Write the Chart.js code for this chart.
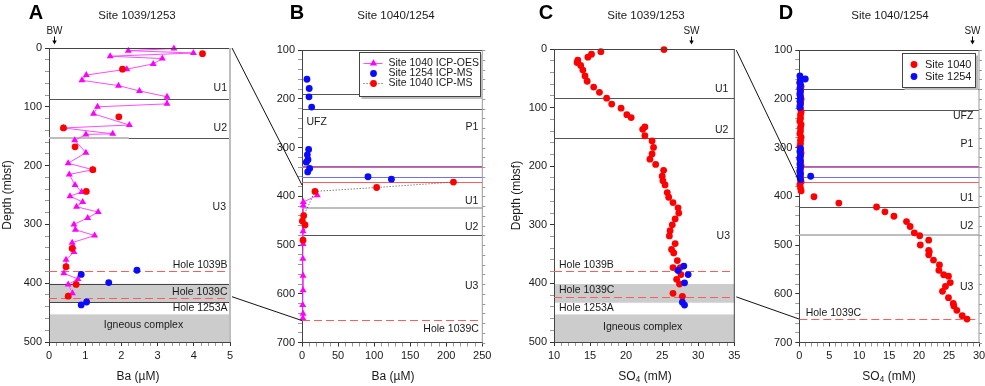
<!DOCTYPE html>
<html>
<head>
<meta charset="utf-8">
<script src="https://cdn.jsdelivr.net/npm/chart.js@4.4.0/dist/chart.umd.min.js"></script>
<style>
  body { margin: 0; background: #fff; width: 985px; height: 386px; overflow: hidden; position: relative; }
  canvas { position: absolute; top: 0; }
  #overlay { pointer-events: none; }
</style>
</head>
<body>
<canvas id="cA" width="260" height="386" style="left:0px"></canvas>
<canvas id="cB" width="260" height="386" style="left:240px"></canvas>
<canvas id="cC" width="260" height="386" style="left:490px"></canvas>
<canvas id="cD" width="245" height="386" style="left:740px"></canvas>
<canvas id="overlay" width="985" height="386" style="left:0px"></canvas>
<script>
// ---------- data (depth in mbsf) ----------

// A: Site 1039/1253, Ba (uM)
const aOesDepth = [1, 4.5, 8.5, 14, 18, 27, 36, 46, 55, 64, 73, 83, 95, 100, 112, 131, 136, 146, 147, 157, 178, 196, 207, 215, 233, 245, 252, 262, 270, 279, 289, 300, 309, 319, 331, 338, 347, 360, 372, 383, 393, 402, 417, 422];
const aOesBa = [3.45, 2.19, 3.99, 1.69, 3.13, 2.88, 2.15, 1.03, 0.91, 1.92, 2.50, 3.26, 3.26, 1.34, 1.23, 2.22, 0.40, 1.76, 1.02, 0.71, 1.02, 0.53, 1.21, 0.56, 0.72, 0.90, 0.58, 0.93, 0.76, 1.36, 1.07, 0.69, 0.73, 1.26, 0.64, 0.67, 0.69, 0.47, 0.48, 0.41, 0.80, 0.53, 0.65, 0.53];
const aMsDepth = [9.6, 36, 117, 136, 168, 207, 244, 341, 372, 402, 422];
const aMsBa = [4.24, 2.03, 1.93, 0.40, 0.72, 1.21, 1.03, 0.64, 0.47, 0.75, 0.53];
const a1253Depth = [378, 385, 399, 432, 437];
const a1253Ba = [2.43, 0.89, 1.65, 1.04, 0.89];

// B: Site 1040/1254, Ba (uM)
const bOesDepth = [398, 412, 419, 472, 498, 528, 563, 593, 623, 641, 650];
const bOesBa = [21.3, 1.8, 1.8, 1.5, 1.5, 1.2, 1.5, 1.5, 1.0, 1.5, 1.2];
const b1254Depth = [160, 179, 196, 217, 304, 315, 325, 330, 343, 350, 360, 365];
const b1254Ba = [6.9, 10, 9.7, 13.4, 9.2, 7.4, 8.3, 6.0, 10.6, 7.9, 91.5, 124];
const bMsDepth = [371, 382, 390, 440, 451, 459, 490];
const bMsBa = [210, 103.5, 18, 2.3, 0.5, 4.2, 1.4];

// C: Site 1039/1253, SO4 (mM)
const c1039Depth = [1, 4.5, 9, 14, 19, 23, 28, 36, 46, 55, 65, 74, 84, 94, 101, 112, 117, 133, 137, 148, 157, 168, 179, 188, 197, 207, 217, 225, 232, 245, 253, 262, 271, 280, 290, 300, 310, 319, 332, 342, 348, 361, 373, 373, 385, 393, 401, 417, 422];
const c1039So4 = [25.25, 16.5, 15.2, 14.7, 13.3, 13.2, 13.7, 14.0, 14.3, 14.6, 15.5, 16.3, 17.3, 18.0, 19.3, 20.1, 20.7, 22.6, 22.3, 22.6, 23.6, 23.8, 23.6, 23.3, 24.1, 25.2, 25.0, 25.1, 25.4, 25.7, 25.9, 26.5, 27.2, 27.3, 26.8, 26.4, 26.1, 26.0, 26.8, 26.3, 26.6, 27.1, 26.5, 27.5, 27.6, 27.0, 27.4, 26.5, 27.8];
const c1253Depth = [370.5, 378, 385, 399, 432, 437];
const c1253So4 = [28.0, 27.2, 28.6, 28.1, 27.8, 28.1];

// D: Site 1040/1254, SO4 (mM)
const d1040Depth = [162, 168, 175, 181, 188, 194, 201, 207, 214, 220, 227, 233, 240, 246, 253, 259, 266, 272, 279, 285, 292, 298, 305, 311, 318, 324, 331, 337, 344, 350, 357, 363, 370, 376, 383, 389, 401, 414, 422, 432, 441, 452, 462, 475, 481, 490, 500, 511, 514, 520, 531, 541, 552, 561, 564, 577, 585, 595, 608, 620, 625, 634, 645, 652];
const d1040So4 = [0.2, 0.1, 0.3, 0.2, 0.1, 0.2, 0.3, 0.2, 0.1, 0.2, 0.3, 0.2, 0.2, 0.1, 0.3, 0.2, 0.2, 0.1, 0.3, 0.2, 0.2, 0.1, 0.2, 0.3, 0.2, 0.1, 0.2, 0.3, 0.2, 0.1, 0.2, 0.2, 0.3, 0.1, 0.2, 0.3, 2.45, 6.6, 12.9, 14.3, 15.8, 17.9, 18.5, 19.2, 20.1, 21.6, 20.2, 21.6, 21.7, 21.6, 22.4, 23.4, 23.3, 24.1, 24.9, 25.2, 24.4, 23.9, 24.9, 25.7, 25.8, 26.3, 27.2, 28.0];
const d1254Depth = [153, 159, 166, 172, 179, 185, 192, 198, 205, 211, 218, 302, 308, 315, 321, 327, 334, 340, 347, 353, 360, 366, 159.5, 359];
const d1254So4 = [0.1, 0.2, 0.1, 0.2, 0.1, 0.2, 0.1, 0.2, 0.1, 0.2, 0.1, 0.2, 0.1, 0.2, 0.1, 0.2, 0.1, 0.2, 0.1, 0.2, 0.1, 0.2, 1.0, 1.9];

// boundaries (mbsf)
const site1039Units = [86, 153];        // U1/U2, U2/U3
const site1039Holes = [380, 425];       // Hole 1039B, Hole 1039C
const site1039Box = [401, 433];         // Hole 1039C interval
const site1039Igneous = [453, 500];
const site1040Ufz = [190, 221];
const site1040Lines = [337, 341, 360, 371]; // blue, red, blue, red
const site1040Units = [424, 479];
const site1040Hole = [654];

// axis ranges
const depthA = [0, 500], baA = [0, 5];
const depthB = [100, 700], baB = [0, 250];
const depthC = [0, 500], so4C = [10, 35];
const depthD = [100, 700], so4D = [0, 30];

// connectors between panels: [depth left panel, depth right panel]
const linkAB = [[0, 377], [423, 655]];
const linkCD = [[2, 370], [423, 652]];

// ---------- drawing ----------
const FONT = '"Liberation Sans", Arial, Helvetica, sans-serif';
const RED = '#ff0000', BLUE = '#0a0aff', MAG = '#ff00ff';
const DARK = '#555555', GREY = '#bdbdbd', LRED = '#ff5c5c', LBLUE = '#6e6eff';

Chart.defaults.font.family = FONT;
Chart.defaults.font.size = 11;
Chart.defaults.color = '#222';

function pts(vals, depths) {
    return vals.map((v, i) => ({ x: v, y: depths[i] }));
}

function isMajor(v, step) {
    return Math.abs(v / step - Math.round(v / step)) < 1e-6;
}

function txt(ctx, s, x, y, align, size, bold) {
    ctx.font = (bold ? 'bold ' : '') + size + 'px ' + FONT;
    ctx.textAlign = align;
    ctx.textBaseline = 'middle';
    ctx.fillStyle = '#1a1a1a';
    ctx.fillText(s, x, y);
}

// text with subscript parts, centred on x
function richText(ctx, parts, cx, y, size) {
    let w = 0;
    parts.forEach(p => {
        ctx.font = (p.sub ? size * 0.72 : size) + 'px ' + FONT;
        w += ctx.measureText(p.t).width;
    });
    let x = cx - w / 2;
    ctx.textAlign = 'left';
    ctx.textBaseline = 'middle';
    ctx.fillStyle = '#1a1a1a';
    parts.forEach(p => {
        ctx.font = (p.sub ? size * 0.72 : size) + 'px ' + FONT;
        ctx.fillText(p.t, x, p.sub ? y + 3.5 : y);
        x += ctx.measureText(p.t).width;
    });
}

function marker(ctx, style, color, x, y, r) {
    ctx.fillStyle = color;
    ctx.beginPath();
    if (style === 'triangle') {
        ctx.moveTo(x, y - r);
        ctx.lineTo(x + r * 0.866, y + r * 0.5);
        ctx.lineTo(x - r * 0.866, y + r * 0.5);
        ctx.closePath();
    } else {
        ctx.arc(x, y, r, 0, Math.PI * 2);
    }
    ctx.fill();
}

function decor(o) {
    return {
        id: 'decor',
        beforeDraw(chart) {
            const { ctx, chartArea: a } = chart;
            const y = chart.scales.y;
            ctx.save();
            (o.bands || []).forEach(b => {
                const t = y.getPixelForValue(b.r[0]), btm = y.getPixelForValue(b.r[1]);
                ctx.fillStyle = '#cccccc';
                ctx.fillRect(a.left, t, a.right - a.left, btm - t);
                if (b.edge) {
                    ctx.strokeStyle = '#444';
                    ctx.lineWidth = 1;
                    ctx.beginPath();
                    ctx.moveTo(a.left, Math.round(t) + 0.5);
                    ctx.lineTo(a.right, Math.round(t) + 0.5);
                    ctx.moveTo(a.left, Math.round(btm) - 0.5);
                    ctx.lineTo(a.right, Math.round(btm) - 0.5);
                    ctx.stroke();
                }
            });
            ctx.restore();
        },
        beforeDatasetsDraw(chart) {
            const { ctx, chartArea: a } = chart;
            const x = chart.scales.x, y = chart.scales.y;
            ctx.save();
            (o.lines || []).forEach(l => {
                const w = l.w || 1;
                const py = Math.round(y.getPixelForValue(l.d)) + (w % 2 ? 0.5 : 0);
                const x1 = l.from != null ? x.getPixelForValue(l.from) : a.left;
                const x2 = l.to != null ? x.getPixelForValue(l.to) : a.right;
                ctx.strokeStyle = l.c;
                ctx.lineWidth = w;
                ctx.setLineDash(l.dash || []);
                ctx.beginPath();
                ctx.moveTo(x1, py);
                ctx.lineTo(x2, py);
                ctx.stroke();
            });
            ctx.restore();
        },
        afterDraw(chart) {
            const { ctx, chartArea: a } = chart;
            const x = chart.scales.x, y = chart.scales.y;
            ctx.save();
            // frame: top and right edges
            ctx.strokeStyle = '#444';
            ctx.lineWidth = 1;
            ctx.beginPath();
            ctx.moveTo(a.left, Math.round(a.top) + 0.5);
            ctx.lineTo(a.right, Math.round(a.top) + 0.5);
            ctx.stroke();
            ctx.strokeStyle = o.right.c;
            ctx.lineWidth = o.right.w;
            ctx.beginPath();
            ctx.moveTo(a.right, a.top);
            ctx.lineTo(a.right, a.bottom);
            ctx.stroke();
            if (o.right.ticks) {
                ctx.lineWidth = 1;
                ctx.beginPath();
                y.ticks.forEach(t => {
                    const py = Math.round(y.getPixelForValue(t.value)) + 0.5;
                    ctx.moveTo(a.right, py);
                    ctx.lineTo(a.right + 3, py);
                });
                ctx.stroke();
            }

            // labels inside the plot
            (o.labels || []).forEach(l => {
                const py = y.getPixelForValue(l.d);
                let px = l.at === 'right' ? a.right - l.dx : l.at === 'left' ? a.left + l.dx : (a.left + a.right) / 2 + l.dx;
                txt(ctx, l.t, px, py, l.at === 'center' ? 'center' : l.at, 10.5);
            });

            // panel letter and title
            ctx.font = 'bold 20px ' + FONT;
            ctx.textAlign = 'center';
            ctx.textBaseline = 'alphabetic';
            ctx.fillStyle = '#000';
            ctx.fillText(o.letter, o.letterX, 19);
            ctx.font = '11.5px ' + FONT;
            ctx.fillStyle = '#1a1a1a';
            ctx.fillText(o.title, o.titleX, 18.5);

            // axis titles
            richText(ctx, o.xTitle, o.xTitleX, 376.5, 12);
            if (o.yTitleX != null) {
                ctx.save();
                ctx.translate(o.yTitleX, (a.top + a.bottom) / 2);
                ctx.rotate(-Math.PI / 2);
                txt(ctx, 'Depth (mbsf)', 0, 0, 'center', 12);
                ctx.restore();
            }

            // bottom water / seawater arrow
            if (o.arrow) {
                const ax = Math.round(x.getPixelForValue(o.arrow.x)) + 0.5;
                txt(ctx, o.arrow.t, ax, 31, 'center', 10);
                ctx.strokeStyle = '#000';
                ctx.lineWidth = 1;
                ctx.beginPath();
                ctx.moveTo(ax, 36.5);
                ctx.lineTo(ax, 41);
                ctx.stroke();
                ctx.fillStyle = '#000';
                ctx.beginPath();
                ctx.moveTo(ax - 2.2, 40.5);
                ctx.lineTo(ax + 2.2, 40.5);
                ctx.lineTo(ax, 44.5);
                ctx.closePath();
                ctx.fill();
            }

            // legend box
            if (o.legend) {
                const L = o.legend;
                const bx = Math.round(a.left + L.dx) + 0.5, by = Math.round(a.top + L.dy) + 0.5;
                ctx.fillStyle = '#fff';
                ctx.fillRect(bx, by, L.w, L.h);
                ctx.strokeStyle = '#bbb';
                ctx.lineWidth = 2;
                ctx.beginPath();
                ctx.moveTo(bx + L.w + 1.5, by + 2);
                ctx.lineTo(bx + L.w + 1.5, by + L.h + 1.5);
                ctx.lineTo(bx + 2, by + L.h + 1.5);
                ctx.stroke();
                ctx.strokeStyle = '#444';
                ctx.lineWidth = 1;
                ctx.strokeRect(bx, by, L.w, L.h);
                L.rows.forEach((r, i) => {
                    const ry = by + L.first + i * L.gap;
                    if (r.line) {
                        ctx.strokeStyle = r.line;
                        ctx.setLineDash(r.dash || []);
                        ctx.beginPath();
                        ctx.moveTo(bx + L.sym - 10, ry);
                        ctx.lineTo(bx + L.sym + 9, ry);
                        ctx.stroke();
                        ctx.setLineDash([]);
                    }
                    marker(ctx, r.style, r.color, bx + L.sym, ry, r.style === 'triangle' ? 4.2 : 3.4);
                    txt(ctx, r.t, bx + L.text, ry, 'left', L.size);
                });
            }
            ctx.restore();
        }
    };
}

function panel(id, o) {
    return new Chart(document.getElementById(id), {
        type: 'scatter',
        data: { datasets: o.datasets },
        options: {
            responsive: false,
            animation: false,
            devicePixelRatio: 1,
            events: [],
            layout: { padding: { left: 0, right: o.padRight, top: o.padTop, bottom: 0 } },
            plugins: { legend: { display: false }, tooltip: { enabled: false } },
            scales: {
                x: {
                    type: 'linear',
                    min: o.xRange[0],
                    max: o.xRange[1],
                    ticks: {
                        stepSize: o.xMinor,
                        autoSkip: false,
                        maxRotation: 0,
                        padding: 3,
                        color: '#1a1a1a',
                        callback: v => isMajor(v, o.xMajor) ? String(Math.round(v)) : ''
                    },
                    grid: {
                        drawOnChartArea: false,
                        tickLength: 4,
                        tickColor: c => (c.tick && isMajor(c.tick.value, o.xMajor)) ? '#333' : '#999'
                    },
                    border: { color: '#444' },
                    afterFit: s => { s.height = o.xHeight; s.paddingLeft = 0; s.paddingRight = 0; }
                },
                y: {
                    type: 'linear',
                    reverse: true,
                    min: o.yRange[0],
                    max: o.yRange[1],
                    ticks: {
                        stepSize: 20,
                        autoSkip: false,
                        padding: 3,
                        color: '#1a1a1a',
                        callback: v => isMajor(v, 100) ? String(v) : ''
                    },
                    grid: {
                        drawOnChartArea: false,
                        tickLength: 4,
                        tickColor: c => (c.tick && isMajor(c.tick.value, 100)) ? '#333' : '#999'
                    },
                    border: { color: '#444' },
                    afterFit: s => { s.width = o.yWidth; s.paddingTop = 0; s.paddingBottom = 0; }
                }
            }
        },
        plugins: [decor(o)]
    });
}

function dots(vals, depths, color, order) {
    return {
        data: pts(vals, depths),
        pointStyle: 'circle',
        pointRadius: 3.4,
        pointBackgroundColor: color,
        pointBorderWidth: 0,
        showLine: false,
        clip: false,
        order: order
    };
}

const baTitle = [{ t: 'Ba (\u00b5M)' }];
const so4Title = [{ t: 'SO' }, { t: '4', sub: true }, { t: ' (mM)' }];

const chartA = panel('cA', {
    xRange: baA, xMinor: 0.2, xMajor: 1, yRange: depthA,
    padTop: 48, padRight: 30, yWidth: 49, xHeight: 44,
    letter: 'A', letterX: 36, title: 'Site 1039/1253', titleX: 137,
    xTitle: baTitle, xTitleX: 138, yTitleX: 8,
    right: { c: GREY, w: 2 },
    arrow: { x: 0.13, t: 'BW' },
    bands: [{ r: site1039Box, edge: true }, { r: site1039Igneous }],
    lines: [
        { d: site1039Units[0], c: DARK },
        { d: site1039Units[1], c: GREY, w: 2, to: 2.2 },
        { d: site1039Units[1], c: DARK, from: 2.2 },
        { d: site1039Holes[0], c: LRED, dash: [8, 4] },
        { d: site1039Holes[1], c: LRED, dash: [8, 4] }
    ],
    labels: [
        { t: 'U1', d: 68, at: 'right', dx: 3 },
        { t: 'U2', d: 137, at: 'right', dx: 3 },
        { t: 'U3', d: 270, at: 'right', dx: 4 },
        { t: 'Hole 1039B', d: 370, at: 'right', dx: 2.5 },
        { t: 'Hole 1039C', d: 416, at: 'right', dx: 2.5 },
        { t: 'Hole 1253A', d: 443, at: 'right', dx: 2.5 },
        { t: 'Igneous complex', d: 471, at: 'center', dx: 4 }
    ],
    datasets: [
        dots(aMsBa, aMsDepth, RED, 1),
        dots(a1253Ba, a1253Depth, BLUE, 2),
        {
            data: pts(aOesBa, aOesDepth),
            showLine: true,
            borderColor: '#ff4cff',
            borderWidth: 1,
            pointStyle: 'triangle',
            pointRadius: 4,
            pointBackgroundColor: MAG,
            pointBorderWidth: 0,
            clip: false,
            order: 3
        }
    ]
});

const chartB = panel('cB', {
    xRange: baB, xMinor: 10, xMajor: 50, yRange: depthB,
    padTop: 50, padRight: 17.7, yWidth: 62, xHeight: 43.5,
    letter: 'B', letterX: 57, title: 'Site 1040/1254', titleX: 156,
    xTitle: baTitle, xTitleX: 153,
    right: { c: '#999', w: 1, ticks: true },
    lines: [
        { d: site1040Ufz[0], c: DARK },
        { d: site1040Ufz[1], c: DARK },
        { d: site1040Lines[0], c: LBLUE },
        { d: site1040Lines[1], c: LRED },
        { d: site1040Lines[2], c: LBLUE },
        { d: site1040Lines[3], c: LRED },
        { d: site1040Units[0], c: GREY, w: 2 },
        { d: site1040Units[1], c: DARK },
        { d: site1040Hole[0], c: LRED, dash: [8, 4] }
    ],
    labels: [
        { t: 'UFZ', d: 248, at: 'left', dx: 4.5 },
        { t: 'P1', d: 259, at: 'right', dx: 4 },
        { t: 'U1', d: 409, at: 'right', dx: 4 },
        { t: 'U2', d: 464, at: 'right', dx: 4 },
        { t: 'U3', d: 585, at: 'right', dx: 4 },
        { t: 'Hole 1039C', d: 673, at: 'right', dx: 3.5 }
    ],
    legend: {
        dx: 57, dy: 2, w: 121, h: 44, sym: 14, text: 29, first: 11, gap: 10, size: 10.5,
        rows: [
            { t: 'Site 1040 ICP-OES', style: 'triangle', color: MAG, line: '#ff4cff' },
            { t: 'Site 1254 ICP-MS', style: 'circle', color: BLUE },
            { t: 'Site 1040 ICP-MS', style: 'circle', color: RED, line: '#444', dash: [1, 2] }
        ]
    },
    datasets: [
        dots(bMsBa, bMsDepth, RED, 1),
        dots(b1254Ba, b1254Depth, BLUE, 2),
        {
            data: pts(bMsBa, bMsDepth),
            showLine: true,
            borderColor: '#444',
            borderWidth: 1,
            borderDash: [1, 2],
            pointRadius: 0,
            clip: false,
            order: 4
        },
        {
            data: pts(bOesBa, bOesDepth),
            showLine: true,
            borderColor: '#ff4cff',
            borderWidth: 1,
            pointStyle: 'triangle',
            pointRadius: 4,
            pointBackgroundColor: MAG,
            pointBorderWidth: 0,
            clip: false,
            order: 3
        }
    ]
});

const chartC = panel('cC', {
    xRange: so4C, xMinor: 1, xMajor: 5, yRange: depthC,
    padTop: 49, padRight: 15.7, yWidth: 64, xHeight: 44,
    letter: 'C', letterX: 56, title: 'Site 1039/1253', titleX: 156,
    xTitle: so4Title, xTitleX: 155, yTitleX: 27,
    right: { c: '#444', w: 1 },
    arrow: { x: 29.0, t: 'SW' },
    bands: [{ r: site1039Box }, { r: site1039Igneous }],
    lines: [
        { d: site1039Units[0] - 2, c: DARK },
        { d: site1039Units[1] - 1.5, c: DARK },
        { d: site1039Holes[0] - 2, c: LRED, dash: [8, 4] },
        { d: site1039Holes[1] - 2.5, c: LRED, dash: [8, 4] }
    ],
    labels: [
        { t: 'U1', d: 68, at: 'right', dx: 6 },
        { t: 'U2', d: 138, at: 'right', dx: 6 },
        { t: 'U3', d: 320, at: 'right', dx: 4.3 },
        { t: 'Hole 1039B', d: 368, at: 'left', dx: 5 },
        { t: 'Hole 1039C', d: 411, at: 'left', dx: 5 },
        { t: 'Hole 1253A', d: 443, at: 'left', dx: 5 },
        { t: 'Igneous complex', d: 474, at: 'center', dx: -1.5 }
    ],
    datasets: [
        dots(c1253So4, c1253Depth, BLUE, 1),
        dots(c1039So4, c1039Depth, RED, 2)
    ]
});

const chartD = panel('cD', {
    xRange: so4D, xMinor: 1, xMajor: 5, yRange: depthD,
    padTop: 50, padRight: 6, yWidth: 59.3, xHeight: 43.5,
    letter: 'D', letterX: 46, title: 'Site 1040/1254', titleX: 150,
    xTitle: so4Title, xTitleX: 149,
    right: { c: '#999', w: 1, ticks: true },
    arrow: { x: 28.8, t: 'SW' },
    lines: [
        { d: site1040Ufz[0] - 11, c: DARK },
        { d: site1040Ufz[1] + 2, c: DARK },
        { d: site1040Lines[0], c: LBLUE },
        { d: site1040Lines[1], c: LRED },
        { d: site1040Lines[2], c: LBLUE },
        { d: site1040Lines[3], c: LRED },
        { d: site1040Units[0] - 1, c: DARK },
        { d: site1040Units[1] + 1, c: GREY, w: 2 },
        { d: site1040Hole[0] - 2, c: LRED, dash: [8, 4] }
    ],
    labels: [
        { t: 'UFZ', d: 236, at: 'right', dx: 5.7 },
        { t: 'P1', d: 294, at: 'right', dx: 5.7 },
        { t: 'U1', d: 403, at: 'right', dx: 5.7 },
        { t: 'U2', d: 462, at: 'right', dx: 5.7 },
        { t: 'U3', d: 586, at: 'right', dx: 5.7 },
        { t: 'Hole 1039C', d: 640, at: 'left', dx: 6.4 }
    ],
    legend: {
        dx: 103, dy: 3, w: 73, h: 34, sym: 11.5, text: 22.5, first: 11, gap: 12, size: 11,
        rows: [
            { t: 'Site 1040', style: 'circle', color: RED },
            { t: 'Site 1254', style: 'circle', color: BLUE }
        ]
    },
    datasets: [
        dots(d1254So4, d1254Depth, BLUE, 1),
        dots(d1040So4, d1040Depth, RED, 2)
    ]
});

// connector lines between the panels
const ov = document.getElementById('overlay').getContext('2d');
ov.strokeStyle = '#111';
ov.lineWidth = 1;
function connect(c1, left1, d1, c2, left2, d2) {
    ov.beginPath();
    ov.moveTo(left1 + c1.chartArea.right + 2, c1.scales.y.getPixelForValue(d1));
    ov.lineTo(left2 + c2.chartArea.left, c2.scales.y.getPixelForValue(d2));
    ov.stroke();
}
linkAB.forEach(l => connect(chartA, 0, l[0], chartB, 240, l[1]));
linkCD.forEach(l => connect(chartC, 490, l[0], chartD, 740, l[1]));
</script>
</body>
</html>
